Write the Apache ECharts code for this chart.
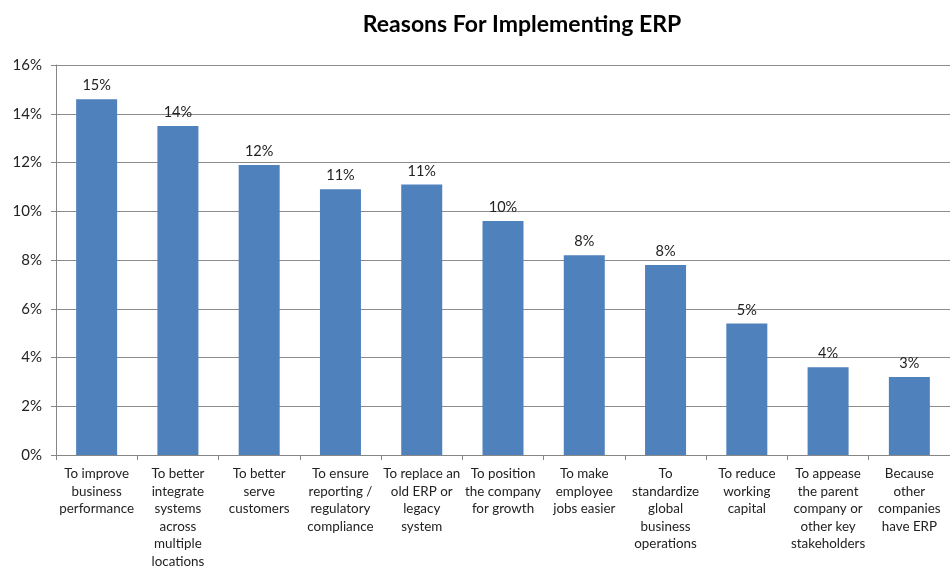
<!DOCTYPE html>
<html>
<head>
<meta charset="utf-8">
<script src="https://cdn.jsdelivr.net/npm/echarts@6/dist/echarts.min.js"></script>
<style>
  html, body { margin: 0; padding: 0; background: #fff; overflow: hidden; }
  #chart { width: 950px; height: 570px; }
</style>
</head>
<body>
<div id="chart"></div>
<script>
// Reasons companies give for implementing ERP (share of respondents, %)
const categories = [
  'To improve\nbusiness\nperformance',
  'To better\nintegrate\nsystems\nacross\nmultiple\nlocations',
  'To better\nserve\ncustomers',
  'To ensure\nreporting /\nregulatory\ncompliance',
  'To replace an\nold ERP or\nlegacy\nsystem',
  'To position\nthe company\nfor growth',
  'To make\nemployee\njobs easier',
  'To\nstandardize\nglobal\nbusiness\noperations',
  'To reduce\nworking\ncapital',
  'To appease\nthe parent\ncompany or\nother key\nstakeholders',
  'Because\nother\ncompanies\nhave ERP'
];
const shares = [14.6, 13.5, 11.9, 10.9, 11.1, 9.6, 8.2, 7.8, 5.4, 3.6, 3.2];
const yTicks = { min: 0, max: 16, step: 2 };

const fontFam = 'Lato, "Open Sans", sans-serif';
const chart = echarts.init(document.getElementById('chart'));
chart.setOption({
  animation: false,
  backgroundColor: '#ffffff',
  title: {
    text: 'Reasons For Implementing ERP',
    left: 517,
    textAlign: 'center',
    top: 8,
    textStyle: { fontFamily: fontFam, fontSize: 23, fontWeight: 'bold', color: '#000' }
  },
  grid: { left: 56, top: 65, width: 899, height: 393, containLabel: false },
  xAxis: {
    type: 'category',
    data: categories,
    axisLine: { lineStyle: { color: '#868686' } },
    axisTick: { show: true, length: 5, lineStyle: { color: '#868686' } },
    axisLabel: {
      interval: 0,
      margin: 10,
      color: '#222',
      fontFamily: fontFam,
      fontSize: 13.4,
      lineHeight: 17.5,
      align: 'center'
    }
  },
  yAxis: {
    type: 'value',
    min: yTicks.min,
    max: yTicks.max,
    interval: yTicks.step,
    axisLine: { show: true, lineStyle: { color: '#868686' } },
    axisTick: { show: true, length: 5, lineStyle: { color: '#868686' } },
    splitLine: { lineStyle: { color: '#8c8c8c', width: 1 } },
    axisLabel: {
      formatter: v => v + '%',
      color: '#222',
      fontFamily: fontFam,
      fontSize: 15,
      margin: 14
    }
  },
  series: [{
    type: 'bar',
    data: shares,
    barWidth: 41,
    itemStyle: { color: '#4f81bd' },
    label: {
      show: true,
      position: 'top',
      distance: 6,
      formatter: p => Math.round(p.value) + '%',
      color: '#222',
      fontFamily: fontFam,
      fontSize: 14.5
    }
  }]
});
</script>
</body>
</html>
